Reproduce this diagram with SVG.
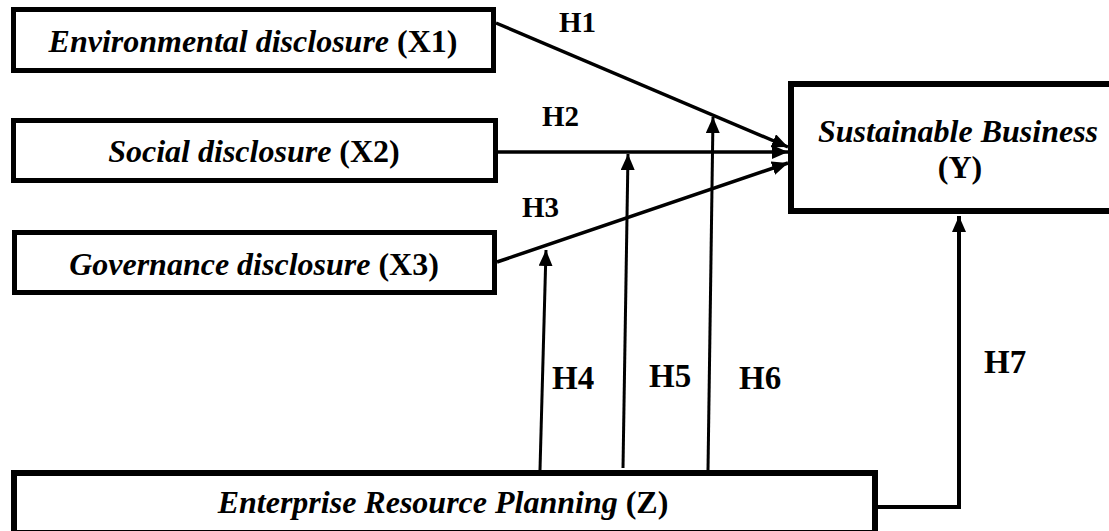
<svg xmlns="http://www.w3.org/2000/svg" width="1109" height="531" viewBox="0 0 1109 531">
<style>
.box{fill:#fff;stroke:#000;stroke-width:5}
.t{font-family:"Liberation Serif","Times New Roman",serif;font-size:32px;font-weight:bold;fill:#000}
.i{font-style:italic}
.h{font-family:"Liberation Serif","Times New Roman",serif;font-weight:bold;fill:#000}
.c{fill:none;stroke:#000;stroke-width:3.5;marker-end:url(#ah)}
</style>
<defs>
<marker id="ah" markerUnits="userSpaceOnUse" viewBox="0 0 16 14" refX="16" refY="7" markerWidth="16" markerHeight="14" orient="auto">
<path d="M0,0 L16,7 L0,14 z" fill="#000"/>
</marker>
</defs>
<rect width="1109" height="531" fill="#fff"/>
<g id="connectors">
<line class="c" x1="496" y1="23" x2="788" y2="147"/>
<line class="c" x1="498" y1="152" x2="788" y2="152"/>
<line class="c" x1="497" y1="262" x2="788" y2="163"/>
<line class="c" style="stroke-width:3" x1="540" y1="470" x2="546" y2="250"/>
<line class="c" style="stroke-width:3" x1="623" y1="468" x2="628" y2="154"/>
<line class="c" style="stroke-width:3" x1="708" y1="470" x2="713" y2="117"/>
<path class="c" style="stroke-width:4" d="M875,507 H959 V216"/>
<text class="h" font-size="29" x="559" y="32">H1</text>
<text class="h" font-size="29" x="542" y="126">H2</text>
<text class="h" font-size="29" x="522" y="217">H3</text>
<text class="h" font-size="33" x="552" y="389">H4</text>
<text class="h" font-size="33" x="649" y="387">H5</text>
<text class="h" font-size="33" x="739" y="389">H6</text>
<text class="h" font-size="33" x="984" y="373">H7</text>
</g>
<g id="x1">
<rect class="box" x="13.5" y="9.5" width="480" height="61"/>
<text class="t" x="253" y="52" text-anchor="middle"><tspan class="i">Environmental disclosure </tspan>(X1)</text>
</g>
<g id="x2">
<rect class="box" x="13.5" y="120.5" width="482" height="60"/>
<text class="t" x="254" y="162" text-anchor="middle"><tspan class="i">Social disclosure </tspan>(X2)</text>
</g>
<g id="x3">
<rect class="box" x="14.5" y="232.5" width="480" height="60"/>
<text class="t" x="254" y="275" text-anchor="middle"><tspan class="i">Governance disclosure </tspan>(X3)</text>
</g>
<g id="y">
<rect class="box" style="stroke-width:6" x="791" y="84" width="400" height="127"/>
<text class="t i" x="958" y="142" text-anchor="middle">Sustainable Business</text>
<text class="t" x="960" y="178" text-anchor="middle">(Y)</text>
</g>
<g id="z">
<rect class="box" style="stroke-width:6" x="14" y="473" width="861" height="60"/>
<text class="t" x="443" y="513" text-anchor="middle"><tspan class="i">Enterprise Resource Planning </tspan>(Z)</text>
</g>
</svg>
